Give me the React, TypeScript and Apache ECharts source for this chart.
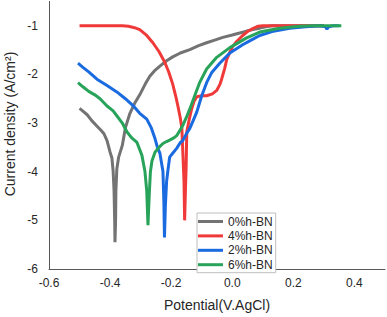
import React, { useEffect, useRef } from "react";
import * as echarts from "echarts";

const legendNames = ["0%h-BN", "4%h-BN", "2%h-BN", "6%h-BN"];
const colors = ["#737373", "#f03a3a", "#1a6be0", "#27a35a"];
const xTitle = "Potential(V.AgCl)";
const yTitle = "Current density (A/cm²)";

const gray0: number[][] = [
  [-0.5, -2.7], [-0.49, -2.75], [-0.475, -2.83], [-0.46, -2.95], [-0.445, -3.05], [-0.43, -3.15],
  [-0.42, -3.22], [-0.41, -3.36], [-0.4, -3.6], [-0.394, -3.72], [-0.39, -3.99], [-0.387, -4.4],
  [-0.385, -5.0], [-0.384, -5.45], [-0.382, -5.0], [-0.381, -4.4], [-0.378, -3.95], [-0.372, -3.7],
  [-0.36, -3.46], [-0.35, -3.1], [-0.335, -2.8], [-0.32, -2.6], [-0.303, -2.42], [-0.285, -2.2],
  [-0.27, -2.04], [-0.255, -1.93], [-0.237, -1.83], [-0.215, -1.72], [-0.195, -1.64], [-0.17, -1.56],
  [-0.139, -1.49], [-0.11, -1.41], [-0.084, -1.35], [-0.055, -1.29], [-0.031, -1.24], [0.0, -1.19],
  [0.024, -1.15], [0.047, -1.11], [0.067, -1.08], [0.09, -1.05], [0.11, -1.02], [0.13, -1.0],
  [0.2, -1.0], [0.3, -1.0],
];

const red4: number[][] = [
  [-0.5, -1.0], [-0.45, -1.0], [-0.4, -1.0], [-0.36, -1.0], [-0.34, -1.01], [-0.32, -1.04],
  [-0.303, -1.08], [-0.28, -1.2], [-0.26, -1.35], [-0.24, -1.53], [-0.221, -1.75], [-0.208, -1.95],
  [-0.195, -2.2], [-0.185, -2.45], [-0.178, -2.65], [-0.17, -2.9], [-0.165, -3.11], [-0.162, -3.58],
  [-0.158, -4.2], [-0.156, -5.0], [-0.153, -4.3], [-0.151, -3.9], [-0.149, -3.18], [-0.14, -2.9],
  [-0.133, -2.71], [-0.125, -2.55], [-0.116, -2.46], [-0.1, -2.44], [-0.084, -2.44], [-0.065, -2.4],
  [-0.051, -2.33], [-0.04, -2.2], [-0.035, -2.1], [-0.025, -1.88], [-0.018, -1.69], [-0.008, -1.55],
  [0.001, -1.43], [0.015, -1.32], [0.034, -1.2], [0.05, -1.12], [0.067, -1.06], [0.085, -1.01],
  [0.1, -1.0], [0.2, -1.0], [0.3, -1.0],
];

const blue2: number[][] = [
  [-0.505, -1.77], [-0.49, -1.85], [-0.47, -1.95], [-0.443, -2.1], [-0.41, -2.23], [-0.378, -2.36],
  [-0.35, -2.5], [-0.325, -2.64], [-0.303, -2.8], [-0.28, -2.92], [-0.265, -3.1], [-0.253, -3.32],
  [-0.245, -3.5], [-0.237, -3.62], [-0.227, -3.99], [-0.224, -4.6], [-0.222, -5.35], [-0.219, -4.7],
  [-0.215, -4.2], [-0.211, -3.99], [-0.205, -3.7], [-0.195, -3.62], [-0.182, -3.52], [-0.17, -3.4],
  [-0.162, -3.36], [-0.15, -3.22], [-0.139, -3.11], [-0.128, -2.95], [-0.116, -2.77], [-0.1, -2.44],
  [-0.084, -2.17], [-0.067, -1.96], [-0.041, -1.77], [-0.008, -1.56], [0.034, -1.39], [0.06, -1.3],
  [0.09, -1.2], [0.13, -1.12], [0.188, -1.05], [0.24, -1.02], [0.29, -1.0], [0.305, -1.02],
  [0.31, -1.07], [0.316, -1.02], [0.33, -1.0], [0.35, -1.0],
];

const green6: number[][] = [
  [-0.505, -2.17], [-0.49, -2.25], [-0.47, -2.35], [-0.45, -2.42], [-0.433, -2.5], [-0.41, -2.65],
  [-0.39, -2.75], [-0.378, -2.85], [-0.36, -3.0], [-0.345, -3.18], [-0.33, -3.3], [-0.312, -3.4],
  [-0.296, -3.66], [-0.286, -3.99], [-0.28, -4.4], [-0.276, -5.1], [-0.272, -4.5], [-0.268, -4.0],
  [-0.263, -3.78], [-0.253, -3.6], [-0.24, -3.5], [-0.227, -3.42], [-0.215, -3.38], [-0.205, -3.35],
  [-0.19, -3.3], [-0.182, -3.26], [-0.162, -3.05], [-0.15, -2.88], [-0.139, -2.71], [-0.123, -2.44],
  [-0.107, -2.17], [-0.084, -1.89], [-0.051, -1.65], [-0.008, -1.45], [0.047, -1.25], [0.09, -1.13],
  [0.155, -1.05], [0.22, -1.01], [0.263, -1.0], [0.357, -1.0],
];

const seriesData = [gray0, red4, blue2, green6];

export default function App() {
  const ref = useRef<HTMLDivElement>(null);
  useEffect(() => {
    document.body.style.margin = "0";
    const chart = echarts.init(ref.current!, null, { renderer: "svg" });
    const font = "Liberation Sans, Arial, sans-serif";
    chart.setOption({
      animation: false,
      textStyle: { fontFamily: font },
      grid: { left: 49, right: 2, top: 1.4, bottom: 45, containLabel: false },
      legend: {
        orient: "vertical",
        left: 197,
        top: 213,
        data: legendNames.map((n) => ({ name: n, icon: "rect" })),
        itemWidth: 25,
        itemHeight: 3,
        itemGap: 0.4,
        padding: [1.5, 3, 1, 1],
        borderColor: "#bfbfbf",
        borderWidth: 1,
        backgroundColor: "#ffffff",
        textStyle: { fontSize: 12, lineHeight: 14, color: "#262626", fontFamily: font },
      },
      xAxis: {
        type: "value",
        min: -0.6,
        max: 0.5,
        interval: 0.2,
        name: xTitle,
        nameLocation: "middle",
        nameGap: 29,
        nameTextStyle: { fontSize: 14, color: "#262626", fontFamily: font },
        axisLine: { show: true, onZero: false, lineStyle: { color: "#595959", width: 1 } },
        axisTick: { show: false },
        splitLine: { show: false },
        axisLabel: {
          fontSize: 12,
          color: "#262626",
          margin: 8,
          showMaxLabel: false,
          formatter: (v: number) => v.toFixed(1),
        },
      },
      yAxis: {
        type: "value",
        min: -6,
        max: -0.5,
        interval: 1,
        axisLine: { show: true, onZero: false, lineStyle: { color: "#595959", width: 1 } },
        axisTick: { show: false },
        splitLine: { show: false },
        axisLabel: {
          fontSize: 12,
          color: "#262626",
          margin: 11,
          showMaxLabel: false,
          formatter: (v: number) => String(Math.round(v)),
        },
      },
      graphic: [
        {
          type: "text",
          x: 10,
          y: 124,
          rotation: Math.PI / 2,
          style: {
            text: yTitle,
            fontSize: 14,
            fill: "#262626",
            fontFamily: font,
            align: "center",
            verticalAlign: "middle",
          },
        },
      ],
      series: seriesData.map((d, i) => ({
        name: legendNames[i],
        type: "line",
        data: d,
        symbol: "none",
        showSymbol: false,
        lineStyle: { width: 3, color: colors[i] },
        itemStyle: { color: colors[i] },
        z: 2 + i,
      })),
    });
    return () => chart.dispose();
  }, []);
  return <div ref={ref} style={{ width: 387, height: 317 }} />;
}
